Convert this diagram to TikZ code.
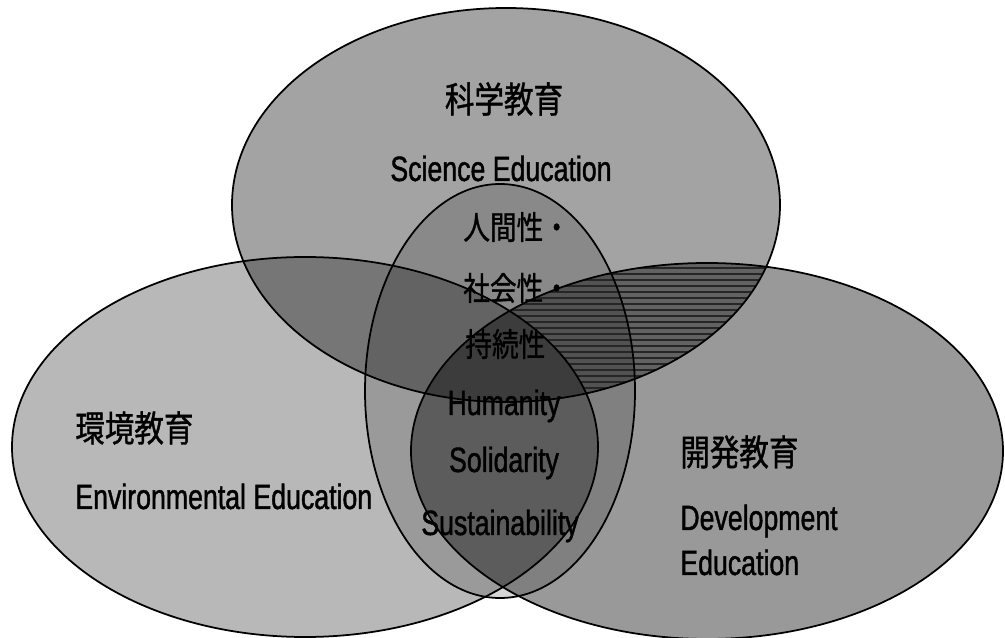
\documentclass[tikz,border=0pt]{standalone}
\usepackage{fontspec}
\setmainfont{Liberation Sans}
\newfontfamily\jpfont[FakeStretch=0.82, FakeBold=1]{Noto Sans CJK JP}
\newfontfamily\enfont[FakeStretch=0.76, FakeBold=1.2]{Liberation Sans}

\begin{document}
\begin{tikzpicture}[x=0.02cm, y=-0.02cm,
    ring/.style={draw=black, line width=1pt},
    jplabel/.style={font=\jpfont\fontsize{20.5}{24}\selectfont, inner sep=0pt},
    jpsmall/.style={font=\jpfont\fontsize{18.5}{22}\selectfont, inner sep=0pt},
    enlabel/.style={font=\enfont\fontsize{20}{24}\selectfont, inner sep=0pt}]
    \useasboundingbox (0,0) rectangle (1005,638);
    % Centres of the four fields
    \coordinate (sci) at (506,205);
    \coordinate (env) at (305,447);
    \coordinate (dev) at (707,451);
    \coordinate (core) at (500,391);

    % Shade the fields, overlaps come out darker
    \fill[black, fill opacity=0.36] (sci) ellipse [x radius=274, y radius=197];
    \fill[black, fill opacity=0.28] (env) ellipse [x radius=293, y radius=190];
    \fill[black, fill opacity=0.40] (dev) ellipse [x radius=296, y radius=188];
    \fill[black, fill opacity=0.16] (core) ellipse [x radius=135, y radius=207];

    % Hatch the science / development overlap
    \begin{scope}
        \clip (sci) ellipse [x radius=274, y radius=197];
        \clip (dev) ellipse [x radius=296, y radius=188];
        \begin{scope}[even odd rule]
            \clip (0,0) rectangle (1005,638) (env) ellipse [x radius=293, y radius=190];
            \foreach \y in {262,268,...,406} \draw[black!85, semithick] (430,\y) -- (800,\y);
        \end{scope}
    \end{scope}

    % Outlines
    \foreach \c/\rx/\ry in {sci/274/197, env/293/190, dev/296/188, core/135/207}
        \draw[ring] (\c) ellipse [x radius=\rx, y radius=\ry];

    % Labels
    \node[jplabel] (sci-jp) at (504,99) {科学教育};
    \node[enlabel, anchor=base] (sci-en) at (501,181) {Science Education};
    \node[jpsmall, anchor=west] (core-jp1) at (463,227) {人間性・};
    \node[jpsmall, anchor=west] (core-jp2) at (463,288) {社会性・};
    \node[jpsmall, anchor=west] (core-jp3) at (465,344) {持続性};
    \node[enlabel, anchor=base] (core-en1) at (504,415) {Humanity};
    \node[enlabel, anchor=base] (core-en2) at (504,472) {Solidarity};
    \node[enlabel, anchor=base] (core-en3) at (500,535) {Sustainability};
    \node[jplabel, anchor=west] (env-jp) at (75,428) {環境教育};
    \node[enlabel, anchor=base west] (env-en) at (75,509) {Environmental Education};
    \node[jplabel, anchor=west] (dev-jp) at (680,452) {開発教育};
    \node[enlabel, anchor=base west] (dev-en1) at (680,530) {Development};
    \node[enlabel, anchor=base west] (dev-en2) at (680,575) {Education};
\end{tikzpicture}
\end{document}
